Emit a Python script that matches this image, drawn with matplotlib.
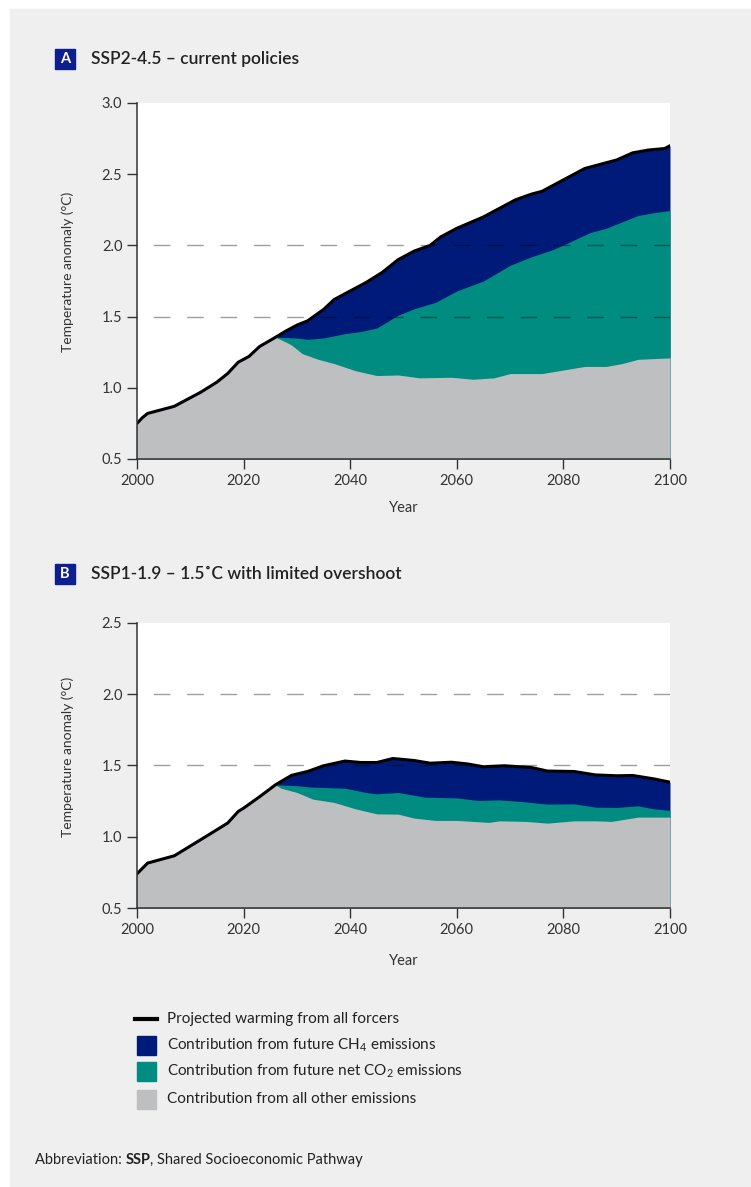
"""SSP2-4.5 vs SSP1-1.9 warming contributions, two stacked area panels."""
import numpy as np
import matplotlib
matplotlib.use("Agg")
import matplotlib.pyplot as plt
from matplotlib.patches import Rectangle
from matplotlib.lines import Line2D

plt.rcParams["font.family"] = ["Lato", "DejaVu Sans"]
plt.rcParams["mathtext.fontset"] = "custom"
plt.rcParams["mathtext.rm"] = "Lato"

W, H = 751, 1187

NAVY = "#001a7a"
TEAL = "#008c80"
GREY = "#bebfc1"
BG = "#efefef"
TXT = "#333333"

# ---- panel A: SSP2-4.5 ----
years_total_a = [2000, 2001, 2002, 2005, 2007, 2010, 2012, 2015, 2017, 2019, 2021, 2023,
                 2026, 2028, 2030, 2032, 2035, 2037, 2039, 2040, 2043, 2046, 2049, 2052,
                 2055, 2057, 2060, 2065, 2068, 2071, 2074, 2076, 2079, 2082, 2084, 2087,
                 2090, 2093, 2096, 2099, 2100]
total_a = [0.75, 0.79, 0.82, 0.85, 0.87, 0.93, 0.97, 1.04, 1.10, 1.18, 1.22, 1.29,
           1.355, 1.40, 1.44, 1.47, 1.55, 1.62, 1.66, 1.68, 1.74, 1.81, 1.90, 1.96,
           2.00, 2.06, 2.12, 2.20, 2.26, 2.32, 2.36, 2.38, 2.44, 2.50, 2.54, 2.57,
           2.60, 2.65, 2.67, 2.68, 2.70]
years_co2_a = [2026, 2030, 2032, 2035, 2039, 2042, 2045, 2049, 2052, 2056, 2060, 2065,
               2070, 2074, 2078, 2081, 2085, 2088, 2094, 2097, 2100]
co2_top_a = [1.355, 1.35, 1.34, 1.35, 1.38, 1.395, 1.42, 1.51, 1.555, 1.60, 1.68, 1.75,
             1.86, 1.92, 1.97, 2.02, 2.09, 2.12, 2.21, 2.23, 2.245]
years_other_a = [2026, 2028, 2029, 2031, 2034, 2037, 2041, 2045, 2049, 2053, 2059, 2063,
                 2067, 2070, 2076, 2080, 2084, 2088, 2091, 2094, 2100]
other_a = [1.355, 1.32, 1.30, 1.24, 1.20, 1.17, 1.12, 1.086, 1.09, 1.07, 1.074, 1.06,
           1.07, 1.10, 1.10, 1.125, 1.15, 1.15, 1.17, 1.20, 1.21]

# ---- panel B: SSP1-1.9 ----
years_total_b = [2000, 2002, 2007, 2012, 2017, 2019, 2020, 2023, 2026, 2029, 2032, 2035,
                 2039, 2042, 2045, 2048, 2052, 2055, 2059, 2062, 2065, 2069, 2074, 2077,
                 2082, 2086, 2090, 2093, 2097, 2100]
total_b = [0.74, 0.815, 0.866, 0.98, 1.095, 1.177, 1.20, 1.28, 1.364, 1.43, 1.457, 1.497,
           1.53, 1.52, 1.52, 1.548, 1.534, 1.515, 1.522, 1.51, 1.49, 1.497, 1.485, 1.46,
           1.457, 1.433, 1.427, 1.429, 1.405, 1.382]
years_co2_b = [2026, 2030, 2033, 2039, 2043, 2045, 2049, 2054, 2060, 2064, 2068, 2072,
               2077, 2082, 2086, 2090, 2094, 2097, 2100]
co2_top_b = [1.364, 1.357, 1.347, 1.34, 1.31, 1.30, 1.31, 1.277, 1.272, 1.254, 1.258, 1.247,
             1.228, 1.23, 1.207, 1.205, 1.216, 1.195, 1.184]
years_other_b = [2026, 2027, 2030, 2033, 2037, 2041, 2045, 2049, 2052, 2056, 2060, 2066,
                 2068, 2073, 2077, 2082, 2086, 2089, 2094, 2100]
other_b = [1.364, 1.34, 1.31, 1.263, 1.24, 1.195, 1.16, 1.158, 1.13, 1.114, 1.114, 1.10,
           1.111, 1.107, 1.095, 1.111, 1.111, 1.107, 1.137, 1.137]

legend_labels = ["Projected warming from all forcers",
                 "Contribution from future CH$_4$ emissions",
                 "Contribution from future net CO$_2$ emissions",
                 "Contribution from all other emissions"]


def fx(x):
    return x / W


def fy(y):
    return 1 - y / H


def draw_panel(ax, yt, tot, yc, co2, yo, oth, ymax, yticks, xlabel_y, ylabel_y):
    ymin = 0.5
    yt = np.array(yt)
    tot = np.array(tot)
    # grey area follows the total until the split year
    early = yt < yo[0]
    gy = np.concatenate([yt[early], yo])
    gv = np.concatenate([tot[early], oth])
    ax.fill_between(yt, ymin, tot, color=NAVY, lw=0, zorder=1)
    ax.fill_between(yc, ymin, co2, color=TEAL, lw=0, zorder=2)
    ax.fill_between(gy, ymin, gv, color=GREY, lw=0, zorder=3)
    for lvl in (1.5, 2.0):
        # drawn right-to-left so the dash pattern reaches the right edge
        ax.plot([2100, 2000], [lvl, lvl], color="black", alpha=0.38, lw=1.0,
                dashes=(12, 12), dash_capstyle="butt", zorder=4)
    ax.plot(yt, tot, color="black", lw=2.2, zorder=5, solid_capstyle="round")

    ax.set_xlim(2000, 2100)
    ax.set_ylim(ymin, ymax)
    ax.set_xticks(range(2000, 2101, 20))
    ax.set_yticks(yticks)
    ax.set_yticklabels([f"{v:.1f}" for v in yticks])
    ax.set_facecolor("white")
    for s in ("top", "right"):
        ax.spines[s].set_visible(False)
    for s in ("left", "bottom"):
        ax.spines[s].set_color(TXT)
        ax.spines[s].set_linewidth(1.1)
        ax.spines[s].set_zorder(6)
    ax.tick_params(length=7.5, width=1.0, color=TXT, labelsize=10.5, labelcolor=TXT, pad=3)
    ax.set_ylabel("Temperature anomaly (°C)", fontsize=10, color=TXT)
    ax.yaxis.set_label_coords((68 - 137) / 533, ylabel_y)
    ax.yaxis.label.set_verticalalignment("center")
    ax.set_xlabel("Year", fontsize=10.5, color=TXT)
    ax.xaxis.set_label_coords(0.5, xlabel_y)
    ax.xaxis.label.set_verticalalignment("center")


def badge(fig, letter, title, ytop):
    fig.add_artist(Rectangle((fx(55), fy(ytop + 20)), 20 / W, 20 / H,
                             transform=fig.transFigure, color="#0d1f8c", zorder=2))
    fig.text(fx(65), fy(ytop + 10), letter, color="white", fontsize=10.5, weight="bold",
             ha="center", va="center")
    fig.text(fx(91), fy(ytop + 10), title, color="#222222", fontsize=12.5,
             weight="semibold", ha="left", va="center")


def main():
    fig = plt.figure(figsize=(W / 100, H / 100), dpi=100, facecolor="white")
    fig.add_artist(Rectangle((fx(10), 0), 1, fy(9), transform=fig.transFigure,
                             color=BG, zorder=0))

    ax_a = fig.add_axes([fx(137), fy(459), 533 / W, 356 / H])
    draw_panel(ax_a, years_total_a, total_a, years_co2_a, co2_top_a,
               years_other_a, other_a, 3.0, [0.5, 1.0, 1.5, 2.0, 2.5, 3.0],
               (459 - 508) / 356, (459 - 272) / 356)
    ax_b = fig.add_axes([fx(137), fy(908), 533 / W, 285.3 / H])
    draw_panel(ax_b, years_total_b, total_b, years_co2_b, co2_top_b,
               years_other_b, other_b, 2.5, [0.5, 1.0, 1.5, 2.0, 2.5],
               (908 - 961) / 285.3, (908 - 757) / 285.3)

    badge(fig, "A", "SSP2-4.5 – current policies", 49)
    badge(fig, "B", "SSP1-1.9 – 1.5˚C with limited overshoot", 564)

    # legend drawn by hand
    rows = [1019, 1045, 1071, 1099]
    fig.add_artist(Line2D([fx(135), fx(157)], [fy(rows[0])] * 2, color="black", lw=3,
                          transform=fig.transFigure))
    for yc, col in zip(rows[1:], [NAVY, TEAL, GREY]):
        fig.add_artist(Rectangle((fx(137), fy(yc + 9.5)), 19 / W, 19 / H,
                                 transform=fig.transFigure, color=col))
    for yc, lab in zip(rows, legend_labels):
        fig.text(fx(167), fy(yc), lab, fontsize=11, color="#222222", va="center")

    t1 = fig.text(fx(35), fy(1160), "Abbreviation: ", fontsize=10.5, color="#222222",
                  va="center")
    a2 = ax_a.annotate("SSP", xy=(1, 0), xycoords=t1, va="bottom", ha="left",
                       fontsize=10.5, color="#222222", weight="bold", annotation_clip=False)
    ax_a.annotate(", Shared Socioeconomic Pathway", xy=(1, 0), xycoords=a2, va="bottom",
                  ha="left", fontsize=10.5, color="#222222", annotation_clip=False)

    fig.savefig("out.png", dpi=100, facecolor="white")
    plt.close(fig)


if __name__ == "__main__":
    main()
